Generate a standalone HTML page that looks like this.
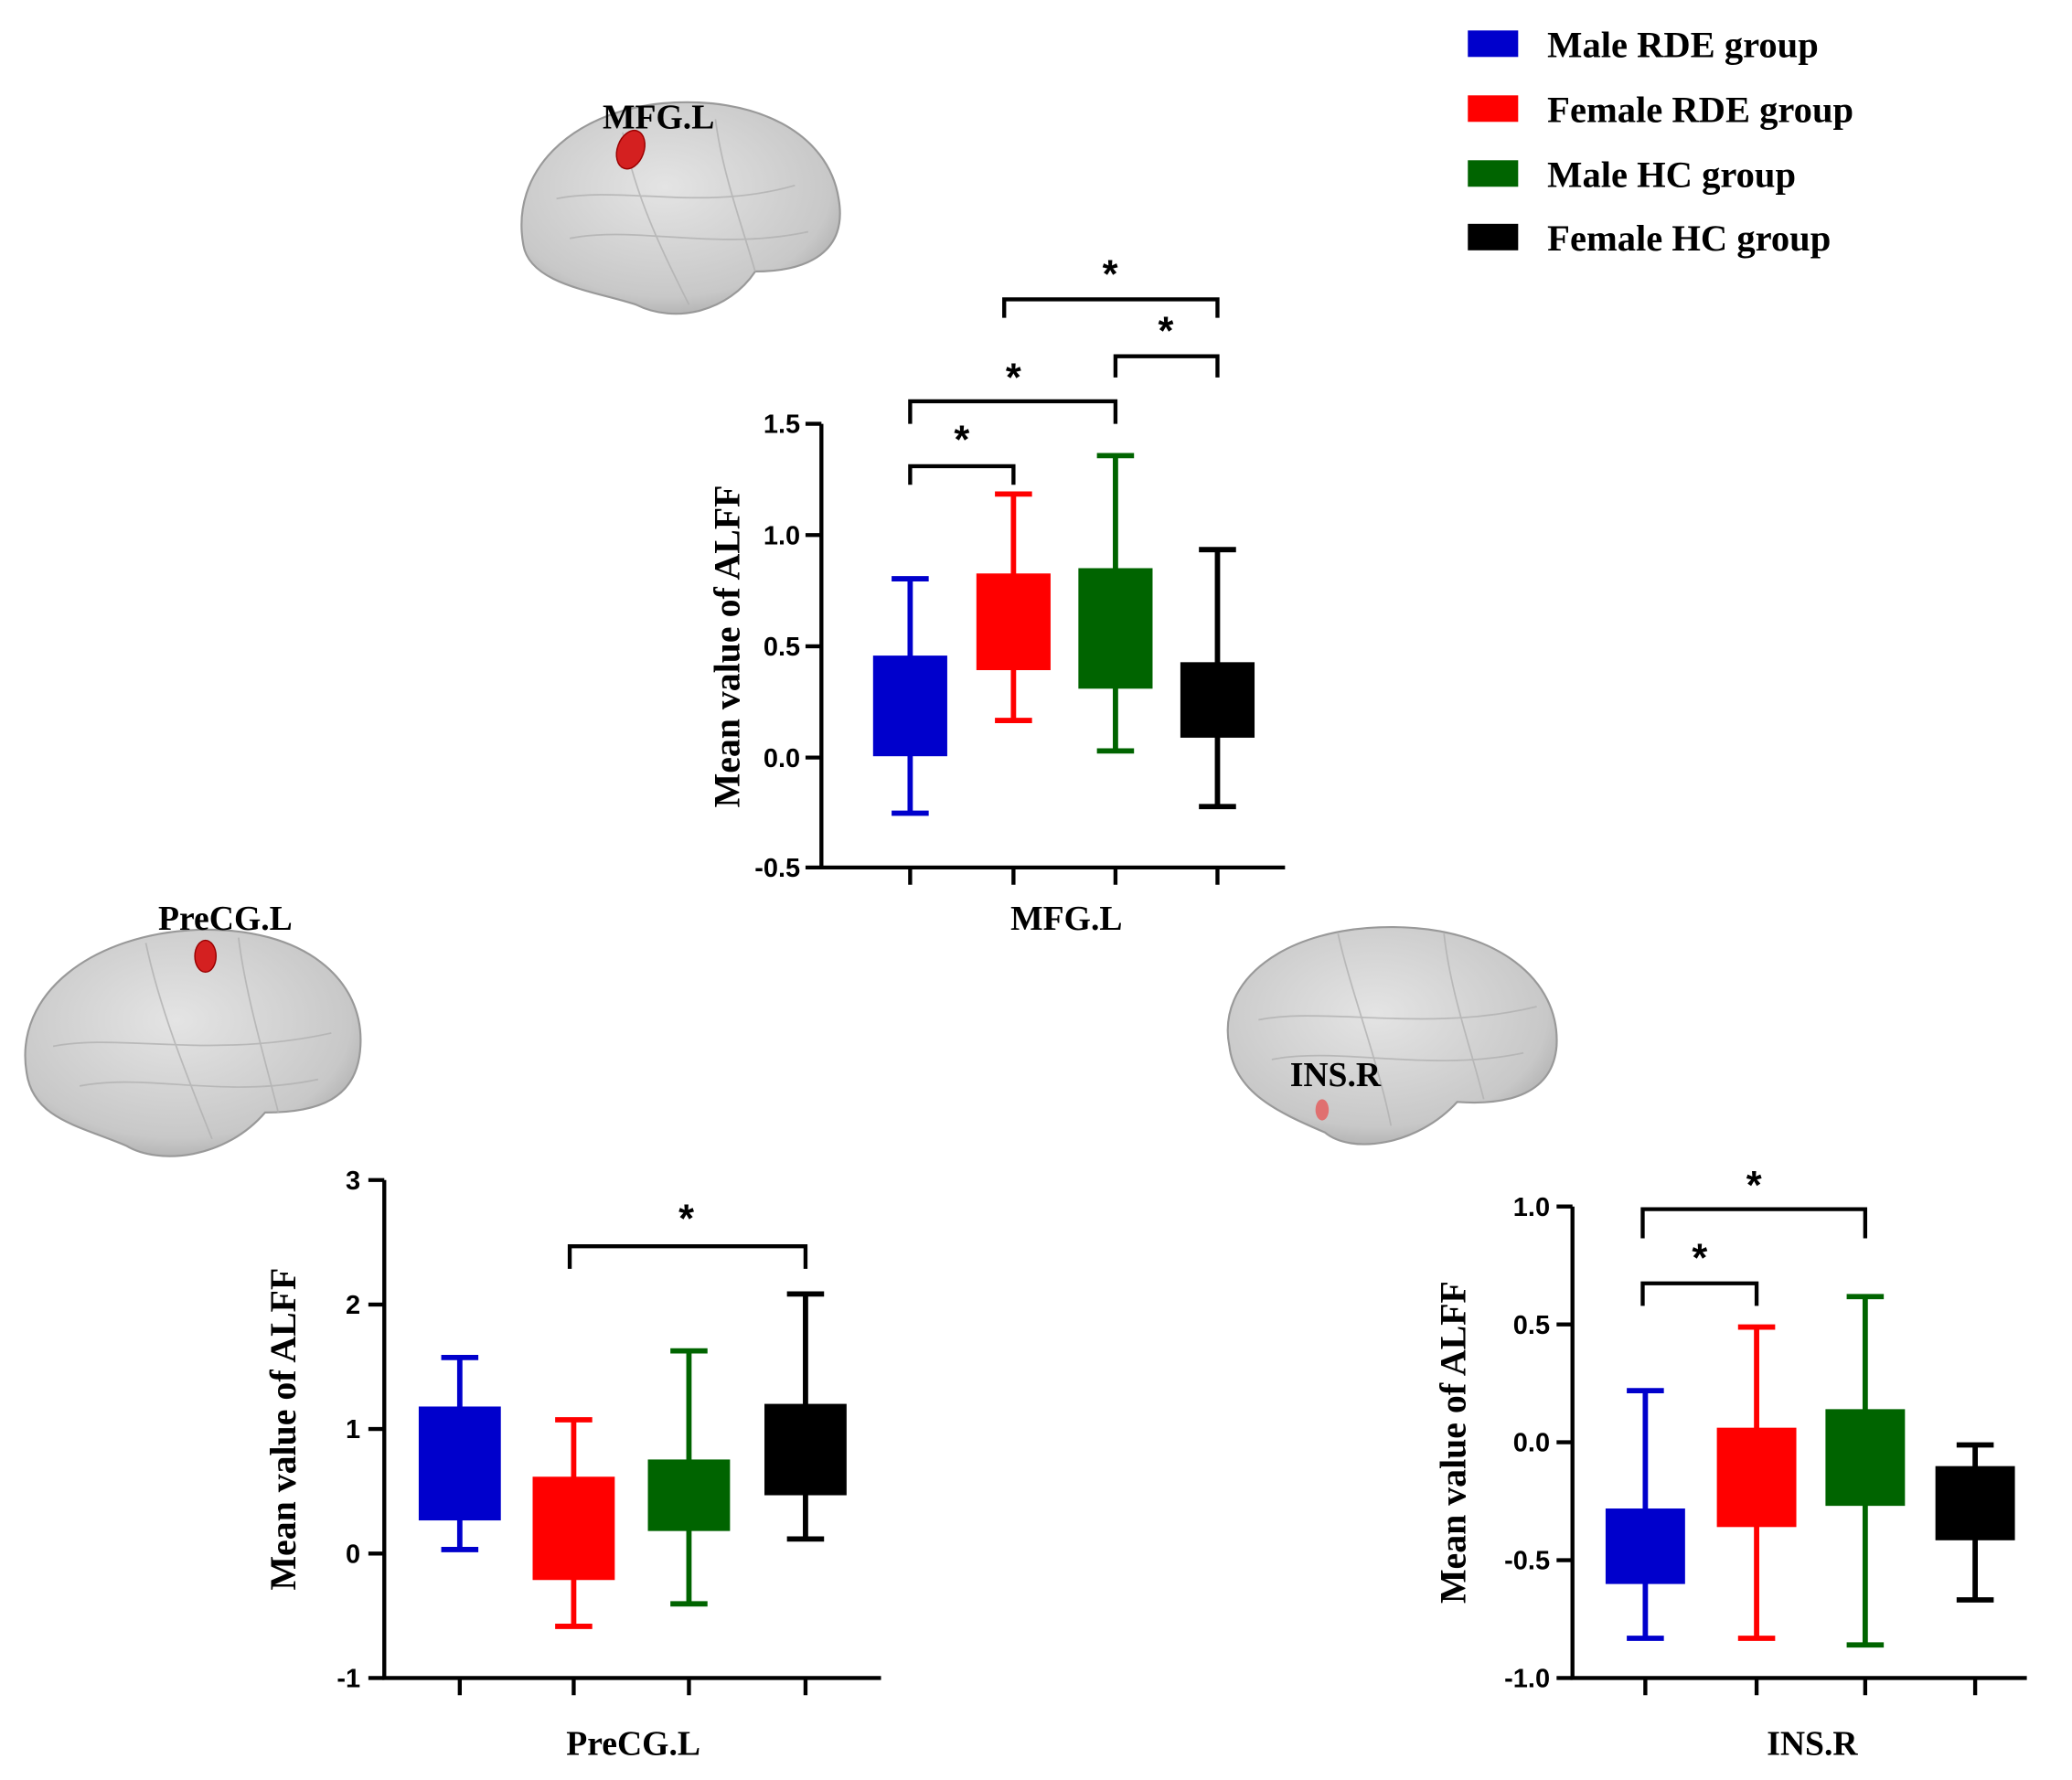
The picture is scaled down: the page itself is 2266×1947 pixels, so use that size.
<!DOCTYPE html>
<html><head><meta charset="utf-8"><style>html,body{margin:0;padding:0;background:#fff}svg{display:block}</style></head>
<body>
<svg width="2266" height="1947" viewBox="0 0 1564 1344" xmlns="http://www.w3.org/2000/svg">
<defs>
<radialGradient id="br" cx="45%" cy="40%" r="65%"><stop offset="0" stop-color="#e4e4e4"/><stop offset="0.8" stop-color="#c8c8c8"/><stop offset="1" stop-color="#aaa"/></radialGradient>
</defs>
<rect width="1564" height="1344" fill="#fff"/>
<g stroke="#999" stroke-width="1.5" fill="url(#br)">
<path d="M395,185 C385,130 430,85 500,78 C570,72 625,100 633,150 C640,190 610,205 570,205 C550,235 510,245 480,230 C450,220 400,215 395,185Z"/>
<path d="M20,810 C10,750 70,705 150,702 C230,700 275,740 272,790 C270,830 240,840 200,840 C170,875 120,880 95,865 C60,850 25,845 20,810Z"/>
<path d="M928,790 C918,740 970,700 1050,700 C1130,700 1178,740 1175,790 C1172,825 1140,835 1100,832 C1070,865 1020,872 1000,855 C965,840 932,825 928,790Z"/>
</g>
<g stroke="#b0b0b0" stroke-width="1.2" fill="none" opacity="0.8">
<path d="M420,150 C470,140 530,160 600,140 M430,180 C480,170 540,190 610,175 M470,100 C480,150 500,190 520,230 M540,90 C545,130 560,170 570,205"/>
<path d="M40,790 C90,780 160,800 250,780 M60,820 C110,810 170,830 240,815 M110,712 C120,760 140,810 160,860 M180,708 C185,750 200,800 210,840"/>
<path d="M950,770 C1000,760 1080,780 1160,760 M960,800 C1010,790 1080,810 1150,795 M1010,705 C1020,750 1040,800 1050,850 M1090,705 C1095,750 1110,790 1120,830"/>
</g>
<ellipse cx="476" cy="113" rx="10" ry="15" fill="#d42020" stroke="#900" transform="rotate(20 476 113)"/>
<ellipse cx="155" cy="722" rx="8" ry="12" fill="#d42020" stroke="#900"/>
<ellipse cx="998" cy="838" rx="5" ry="8" fill="#e07070"/>
<g font-family="Liberation Serif, serif" font-weight="bold" font-size="26" fill="#000" text-anchor="middle">
<text x="497" y="97">MFG.L</text>
<text x="170" y="702">PreCG.L</text>
<text x="1008" y="820">INS.R</text>
</g>
<g font-family="Liberation Serif, serif" font-weight="bold" font-size="28" fill="#000">
<rect x="1108" y="23" width="38" height="20" fill="#0000cc"/><text x="1168" y="43">Male RDE group</text>
<rect x="1108" y="72" width="38" height="20" fill="#ff0000"/><text x="1168" y="92">Female RDE group</text>
<rect x="1108" y="121" width="38" height="20" fill="#006400"/><text x="1168" y="141">Male HC group</text>
<rect x="1108" y="169" width="38" height="20" fill="#000"/><text x="1168" y="189">Female HC group</text>
</g>
<g stroke="#000" stroke-width="3" fill="none">
<path d="M620,320 V655 H970"/>
<path d="M608,320H620M608,404H620M608,488H620M608,572H620M608,655H620"/>
<path d="M687,655V668M765,655V668M842,655V668M919,655V668"/>
<path d="M687,366V352H765V366M687,320V303H842V320M842,285V269H919V285M758,240V226H919V240"/>
</g>
<g font-family="Liberation Sans, sans-serif" font-weight="bold" font-size="20" text-anchor="end">
<text x="604" y="327">1.5</text><text x="604" y="411">1.0</text><text x="604" y="495">0.5</text><text x="604" y="579">0.0</text><text x="604" y="662">-0.5</text>
</g>
<g font-family="Liberation Sans, sans-serif" font-weight="bold" font-size="30" text-anchor="middle">
<text x="726" y="342">*</text><text x="765" y="295">*</text><text x="880" y="260">*</text><text x="838" y="217">*</text>
<text x="518" y="930">*</text><text x="1283" y="960">*</text><text x="1324" y="905">*</text>
</g>
<g font-family="Liberation Serif, serif" font-weight="bold" font-size="26" text-anchor="middle">
<text x="805" y="702">MFG.L</text><text x="478" y="1325">PreCG.L</text><text x="1368" y="1325">INS.R</text>
</g>
<g font-family="Liberation Serif, serif" font-weight="bold" font-size="27.5" text-anchor="middle">
<text transform="translate(558,488) rotate(-90)">Mean value of ALFF</text>
<text transform="translate(223,1079) rotate(-90)">Mean value of ALFF</text>
<text transform="translate(1106,1089) rotate(-90)">Mean value of ALFF</text>
</g>
<g stroke-width="4" fill="none">
<path stroke="#0000cc" d="M687,614V437M673,614H701M673,437H701"/><rect x="661" y="497" width="52" height="72" fill="#0000cc" stroke="#0000cc"/>
<path stroke="#ff0000" d="M765,544V373M751,544H779M751,373H779"/><rect x="739" y="435" width="52" height="69" fill="#ff0000" stroke="#ff0000"/>
<path stroke="#006400" d="M842,567V344M828,567H856M828,344H856"/><rect x="816" y="431" width="52" height="87" fill="#006400" stroke="#006400"/>
<path stroke="#000" d="M919,609V415M905,609H933M905,415H933"/><rect x="893" y="502" width="52" height="53" fill="#000" stroke="#000"/>
</g>
<g stroke="#000" stroke-width="3" fill="none">
<path d="M290,891V1267H665"/>
<path d="M278,891H290M278,985H290M278,1079H290M278,1173H290M278,1267H290"/>
<path d="M347,1267V1280M433,1267V1280M520,1267V1280M608,1267V1280"/>
<path d="M430,958V941H608V958"/>
</g>
<g font-family="Liberation Sans, sans-serif" font-weight="bold" font-size="20" text-anchor="end">
<text x="272" y="898">3</text><text x="272" y="992">2</text><text x="272" y="1086">1</text><text x="272" y="1180">0</text><text x="272" y="1274">-1</text>
</g>
<g stroke-width="4" fill="none">
<path stroke="#0000cc" d="M347,1170V1025M333,1170H361M333,1025H361"/><rect x="318" y="1064" width="58" height="82" fill="#0000cc" stroke="#0000cc"/>
<path stroke="#ff0000" d="M433,1228V1072M419,1228H447M419,1072H447"/><rect x="404" y="1117" width="58" height="74" fill="#ff0000" stroke="#ff0000"/>
<path stroke="#006400" d="M520,1211V1020M506,1211H534M506,1020H534"/><rect x="491" y="1104" width="58" height="50" fill="#006400" stroke="#006400"/>
<path stroke="#000" d="M608,1162V977M594,1162H622M594,977H622"/><rect x="579" y="1062" width="58" height="65" fill="#000" stroke="#000"/>
</g>
<g stroke="#000" stroke-width="3" fill="none">
<path d="M1187,911V1267H1530"/>
<path d="M1175,911H1187M1175,1000H1187M1175,1089H1187M1175,1178H1187M1175,1267H1187"/>
<path d="M1242,1267V1280M1326,1267V1280M1408,1267V1280M1491,1267V1280"/>
<path d="M1240,986V969H1326V986M1240,935V913H1408V935"/>
</g>
<g font-family="Liberation Sans, sans-serif" font-weight="bold" font-size="20" text-anchor="end">
<text x="1170" y="918">1.0</text><text x="1170" y="1007">0.5</text><text x="1170" y="1096">0.0</text><text x="1170" y="1185">-0.5</text><text x="1170" y="1274">-1.0</text>
</g>
<g stroke-width="4" fill="none">
<path stroke="#0000cc" d="M1242,1237V1050M1228,1237H1256M1228,1050H1256"/><rect x="1214" y="1141" width="56" height="53" fill="#0000cc" stroke="#0000cc"/>
<path stroke="#ff0000" d="M1326,1237V1002M1312,1237H1340M1312,1002H1340"/><rect x="1298" y="1080" width="56" height="71" fill="#ff0000" stroke="#ff0000"/>
<path stroke="#006400" d="M1408,1242V979M1394,1242H1422M1394,979H1422"/><rect x="1380" y="1066" width="56" height="69" fill="#006400" stroke="#006400"/>
<path stroke="#000" d="M1491,1208V1091M1477,1208H1505M1477,1091H1505"/><rect x="1463" y="1109" width="56" height="52" fill="#000" stroke="#000"/>
</g>
</svg>
</body></html>
